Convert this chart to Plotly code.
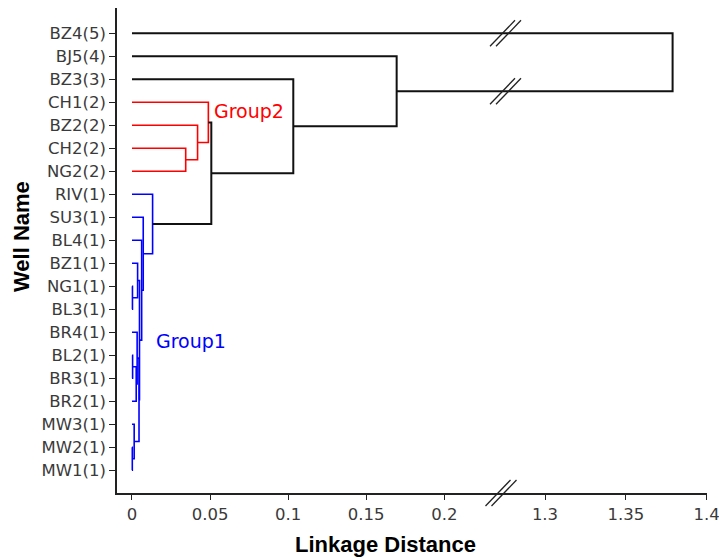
import plotly.graph_objects as go

# ---------------- data ----------------
leaves = ["MW1(1)", "MW2(1)", "MW3(1)", "BR2(1)", "BR3(1)", "BL2(1)", "BR4(1)",
          "BL3(1)", "NG1(1)", "BZ1(1)", "BL4(1)", "SU3(1)", "RIV(1)", "NG2(2)",
          "CH2(2)", "BZ2(2)", "CH1(2)", "BZ3(3)", "BJ5(4)", "BZ4(5)"]

merge_name = ["A", "B", "C", "E", "F", "M1", "M2", "G", "H", "I", "J", "K",
              "R1", "R2", "R3", "L", "N", "O", "P"]
merge_child1 = ["NG1(1)", "BZ1(1)", "BL2(1)", "C", "BR4(1)", "MW2(1)", "MW3(1)", "F", "B",
                "BL4(1)", "SU3(1)", "RIV(1)", "CH2(2)", "BZ2(2)", "CH1(2)", "R3",
                "BZ3(3)", "BJ5(4)", "BZ4(5)"]
merge_child2 = ["BL3(1)", "A", "BR3(1)", "BR2(1)", "E", "MW1(1)", "M1", "M2", "G",
                "H", "I", "J", "NG2(2)", "R1", "R2", "K", "L", "N", "O"]
merge_height = [0.0003, 0.0036, 0.0004, 0.0027, 0.0033, 0.0002, 0.0014, 0.0045, 0.0048,
                0.0062, 0.0072, 0.0132, 0.0344, 0.0420, 0.0489, 0.0508, 0.1033,
                0.1695, 1.379]
merge_group = ["g1"] * 12 + ["g2"] * 3 + ["top"] * 4

group_colors = {"g1": "#0000ff", "g2": "#ff0000", "top": "#111111"}
group_widths = {"g1": 1.6, "g2": 1.6, "top": 2.0}

x1_tickvals = [0, 0.05, 0.1, 0.15, 0.2]
x1_ticktext = ["0", "0.05", "0.1", "0.15", "0.2"]
x2_tickvals = [1.3, 1.35, 1.4]
x2_ticktext = ["1.3", "1.35", "1.4"]

# ---------------- build dendrogram paths ----------------
pos = {name: (0.0, float(i)) for i, name in enumerate(leaves)}
paths = {g: ([], []) for g in group_colors}
for nm, c1, c2, h, g in zip(merge_name, merge_child1, merge_child2, merge_height, merge_group):
    h1, y1 = pos[c1]
    h2, y2 = pos[c2]
    xs, ys = paths[g]
    xs += [h1, h, h, h2, None]
    ys += [y1, y1, y2, y2, None]
    pos[nm] = (h, (y1 + y2) / 2)

fig = go.Figure()
for axis in ["x", "x2"]:
    for g, (xs, ys) in paths.items():
        fig.add_trace(go.Scatter(
            x=xs, y=ys, mode="lines", xaxis=axis, yaxis="y",
            line=dict(color=group_colors[g], width=group_widths[g]),
            hoverinfo="skip", showlegend=False))

# ---------------- layout geometry ----------------
W, H = 719, 558
L, R, T, B = 117, 12, 8, 65
plot_w = W - L - R
plot_h = H - T - B
split = (503 - L) / plot_w

tick_font = dict(family="DejaVu Sans, Verdana, sans-serif", size=16.5, color="#3a3a3a")
axis_common = dict(showgrid=False, zeroline=False, showline=True, linecolor="#222222",
                   linewidth=1.6, ticks="outside", ticklen=5, tickwidth=1.3,
                   tickcolor="#222222", tickfont=tick_font, fixedrange=True,
                   automargin=False)

fig.update_layout(
    width=W, height=H,
    margin=dict(l=L, r=R, t=T, b=B, pad=0, autoexpand=False),
    paper_bgcolor="white", plot_bgcolor="white",
    showlegend=False,
    xaxis=dict(domain=[0, split], range=[-0.0096, 0.2376], tickmode="array",
               tickvals=x1_tickvals, ticktext=x1_ticktext, anchor="y", **axis_common),
    xaxis2=dict(domain=[split, 1], range=[1.274, 1.4003], tickmode="array",
                tickvals=x2_tickvals, ticktext=x2_ticktext, anchor="y",
                ticklabeloverflow="allow", **axis_common),
    yaxis=dict(domain=[0, 1], range=[-0.99, 20.1], tickmode="array",
               tickvals=list(range(len(leaves))), ticktext=leaves,
               **{**axis_common, "ticklen": 6}),
)

# axis titles
title_font = dict(family="Liberation Sans, Arial, sans-serif", size=22, color="#000000")
fig.add_annotation(text="<b>Linkage Distance</b>", xref="paper", yref="paper",
                   x=(385.5 - L) / plot_w, y=(T + plot_h - 544) / plot_h,
                   xanchor="center", yanchor="middle", showarrow=False, font=title_font)
fig.add_annotation(text="<b>Well Name</b>", xref="paper", yref="paper",
                   x=(21 - L) / plot_w, y=(T + plot_h - 237) / plot_h, textangle=-90,
                   xanchor="center", yanchor="middle", showarrow=False, font=title_font)

# group labels
fig.add_annotation(text="Group2", xref="x", yref="y", x=0.0515, y=15.6,
                   xanchor="left", yanchor="middle", showarrow=False,
                   font=dict(family="DejaVu Sans, Verdana, sans-serif", size=19, color="#ff0000"))
fig.add_annotation(text="Group1", xref="x", yref="y", x=0.0138, y=5.6,
                   xanchor="left", yanchor="middle", showarrow=False,
                   font=dict(family="DejaVu Sans, Verdana, sans-serif", size=19, color="#0000ff"))

# axis break marks ("//")
def add_break(xpix, yref, yanchor):
    for dx in (-3, 3):
        fig.add_shape(type="line", xref="paper", yref=yref,
                      xsizemode="pixel", ysizemode="pixel",
                      xanchor=(xpix - L) / plot_w, yanchor=yanchor,
                      x0=dx - 12.5, y0=-13, x1=dx + 12.5, y1=13,
                      line=dict(color="#222222", width=1.3))

add_break(505.5, "y", pos["BZ4(5)"][1])
add_break(505.5, "y", pos["O"][1])
add_break(501, "paper", 0)

fig.write_html("out.html", config={"displayModeBar": False},
               post_script="document.body.style.margin='0px';document.body.style.overflow='hidden';")
